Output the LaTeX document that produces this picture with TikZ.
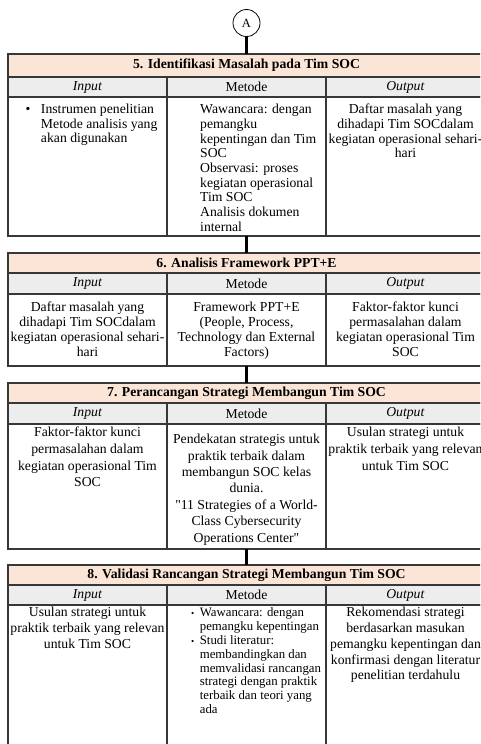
\documentclass[tikz,border=0pt]{standalone}
\usepackage{fontspec}
\setmainfont{Liberation Serif}
\usepackage{tikz}
\usetikzlibrary{shapes,positioning,calc}
\definecolor{soc-pe}{RGB}{251,229,214}
\definecolor{soc-gr}{RGB}{237,237,237}
\definecolor{soc-ln}{RGB}{55,55,55}
\newcommand{\socfs}[1]{\fontsize{13.7}{#1}\selectfont}
\tikzstyle{a}=[anchor=north west]
\tikzstyle{box}=[a,draw=soc-ln,line width=1.3pt,rectangle,inner sep=0pt,outer sep=0pt]
\tikzstyle{title}=[box,fill=soc-pe,minimum width=477pt,minimum height=20pt,font={\socfs{15}\bfseries}]
\tikzstyle{head}=[box,fill=soc-gr,minimum width=159pt,minimum height=20pt]
\tikzstyle{cell}=[box,minimum width=159pt]
\tikzstyle{txt}=[anchor=north,align=center,inner sep=0pt]
\tikzstyle{ltxt}=[a,align=left,inner sep=0pt]
\tikzstyle{link}=[draw,line width=2.5pt]

\begin{document}
\begin{tikzpicture}[x=1pt,y=1pt,font=\socfs{14.7}]
  \clip (0,0) rectangle (480,-744);

  % Start
  \node [draw,circle,line width=0.8pt,minimum size=27pt,inner sep=0pt,font=\fontsize{12.5}{12.5}\selectfont] (a) at (246.5,-23) {A};

  % Titles
  \node [title,minimum height=23pt] (t5) at (8,-54) {5. Identifikasi Masalah pada Tim SOC};
  \node [title] (t6) at (8,-253) {6. Analisis Framework PPT+E};
  \node [title] (t7) at (8,-383) {7. Perancangan Strategi Membangun Tim SOC};
  \node [title] (t8) at (8,-565) {8. Validasi Rancangan Strategi Membangun Tim SOC};

  % Header row and body cells
  \foreach \n/\y/\hh/\h in {5/77/20/139,6/273/21/72,7/403/21/125,8/585/20/170} {
    \node [head,minimum height=\hh pt] (hi\n) at (8,-\y) {\textit{Input}};
    \node [head,minimum height=\hh pt] (hm\n) at (167,-\y) {Metode};
    \node [head,minimum height=\hh pt] (ho\n) at (326,-\y) {\textit{Output}};
    \node [cell,minimum height=\h pt,below=0pt of hi\n] (bi\n) {};
    \node [cell,minimum height=\h pt,below=0pt of hm\n] (bm\n) {};
    \node [cell,minimum height=\h pt,below=0pt of ho\n] (bo\n) {};
  }

  % Connectors
  \draw[link] (a) -- (t5);
  \draw[link] (bm5) -- (t6);
  \draw[link] (bm6) -- (t7);
  \draw[link] (bm7) -- (t8);

  % 5
  \node [a,inner sep=0pt] (x5i) at (25.5,-103) {\begin{tabular}{@{}l@{\hspace{10.5pt}}l@{}}\textbullet & Instrumen penelitian\\ & Metode analisis yang\\ & akan digunakan\end{tabular}};
  \node [ltxt] (x5m) at (200,-104) {Wawancara: dengan\\pemangku\\kepentingan dan Tim\\SOC\\Observasi: proses\\kegiatan operasional\\Tim SOC\\Analisis dokumen\\internal};
  \node [txt] (x5o) at (405.5,-104) {Daftar masalah yang\\dihadapi Tim SOCdalam\\kegiatan operasional sehari-\\hari};

  % 6
  \node [txt,font=\socfs{15}] (x6i) at (87.5,-302) {Daftar masalah yang\\dihadapi Tim SOCdalam\\kegiatan operasional sehari-\\hari};
  \node [txt,font=\socfs{15}] (x6m) at (246.5,-302) {Framework PPT+E\\(People, Process,\\Technology dan External\\Factors)};
  \node [txt,font=\socfs{15}] (x6o) at (405.5,-302) {Faktor-faktor kunci\\permasalahan dalam\\kegiatan operasional Tim\\SOC};

  % 7
  \node [txt,font=\socfs{16.7}] (x7i) at (87.5,-427) {Faktor-faktor kunci\\permasalahan dalam\\kegiatan operasional Tim\\SOC};
  \node [txt,font=\socfs{16.4}] (x7m) at (246.5,-434) {Pendekatan strategis untuk\\praktik terbaik dalam\\membangun SOC kelas\\dunia.\\\textquotedbl 11 Strategies of a World-\\Class Cybersecurity\\Operations Center\textquotedbl};
  \node [txt,font=\socfs{16.7}] (x7o) at (405.5,-427) {Usulan strategi untuk\\praktik terbaik yang relevan\\untuk Tim SOC};

  % 8
  \node [txt,font=\socfs{15.8}] (x8i) at (87.5,-607) {Usulan strategi untuk\\praktik terbaik yang relevan\\untuk Tim SOC};
  \node [a,inner sep=0pt,font=\fontsize{12.8}{13.9}\selectfont] (x8m) at (191,-606.5) {\begin{tabular}{@{}l@{\hspace{5.5pt}}l@{}}{\fontsize{9}{9}\selectfont\textbullet} & Wawancara: dengan\\ & pemangku kepentingan\\{\fontsize{9}{9}\selectfont\textbullet} & Studi literatur:\\ & membandingkan dan\\ & memvalidasi rancangan\\ & strategi dengan praktik\\ & terbaik dan teori yang\\ & ada\end{tabular}};
  \node [txt,font=\socfs{15.8}] (x8o) at (405.5,-607) {Rekomendasi strategi\\berdasarkan masukan\\pemangku kepentingan dan\\konfirmasi dengan literatur\\penelitian terdahulu};
\end{tikzpicture}
\end{document}
